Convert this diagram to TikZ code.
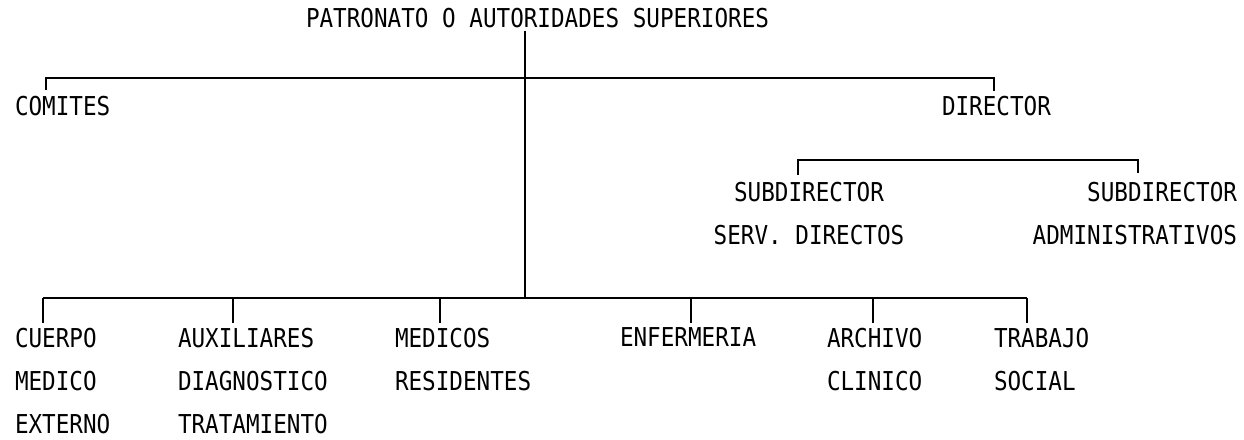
\documentclass[tikz,border=0pt]{standalone}
\usepackage{fontspec}
\newfontfamily\lblfont{DejaVu Sans Mono}[FakeStretch=0.87]
\begin{document}
\begin{tikzpicture}[x=1pt,y=-1pt,
  lbl/.style={font=\lblfont\fontsize{26}{43}\selectfont, inner sep=0pt, outer sep=0pt, anchor=north west, align=left},
  ln/.style={line width=2.4pt, line cap=butt, line join=miter}]
\useasboundingbox (0,0) rectangle (1244,439);
% labels
\node[lbl] (title) at (306,8) {PATRONATO O AUTORIDADES SUPERIORES};
\node[lbl] (comites) at (15,96) {COMITES};
\node[lbl] (director) at (942,96) {DIRECTOR};
\node[lbl, anchor=north, align=center] (subA) at (809,182) {SUBDIRECTOR\\SERV. DIRECTOS};
\node[lbl, anchor=north east, align=right] (subB) at (1237,182) {SUBDIRECTOR\\ADMINISTRATIVOS};
\node[lbl] (cuerpo) at (15,328) {CUERPO\\MEDICO\\EXTERNO};
\node[lbl] (aux) at (178,328) {AUXILIARES\\DIAGNOSTICO\\TRATAMIENTO};
\node[lbl] (medicos) at (395,328) {MEDICOS\\RESIDENTES};
\node[lbl] (enf) at (620,328) {ENFERMERIA};
\node[lbl] (archivo) at (827,328) {ARCHIVO\\CLINICO};
\node[lbl] (trabajo) at (994,328) {TRABAJO\\SOCIAL};
% junction coordinates
\coordinate (top) at (525,78);
\coordinate (bot) at (525,298);
\coordinate (tL) at (46,78);
\coordinate (tR) at (994,78);
\coordinate (sL) at (798,160);
\coordinate (sR) at (1138,160);
\coordinate (bCuerpo) at (43,298);
\coordinate (bAux) at (233,298);
\coordinate (bMed) at (440,298);
\coordinate (bEnf) at (691,298);
\coordinate (bArch) at (873,298);
\coordinate (bTrab) at (1027,298);
% connectors
\draw[ln, shorten <=3pt] (title.south -| top) -- (bot);
\draw[ln, shorten <=6pt, shorten >=5pt] (comites.north -| tL) -- (tL) -- (tR) -- (director.north -| tR);
\draw[ln, shorten <=7pt, shorten >=9pt] (subA.north -| sL) -- (sL) -- (sR) -- (subB.north -| sR);
\draw[ln] (bCuerpo) -- (bTrab);
\foreach \b/\n in {bCuerpo/cuerpo, bAux/aux, bMed/medicos, bEnf/enf, bArch/archivo, bTrab/trabajo}
  \draw[ln, shorten >=5pt] (\b) -- (\n.north -| \b);
\end{tikzpicture}
\end{document}
